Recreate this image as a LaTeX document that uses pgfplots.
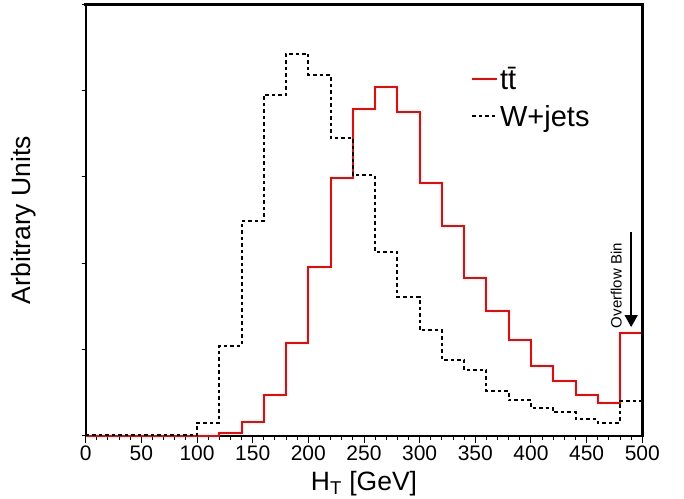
\documentclass[border=0pt]{standalone}
\usepackage{fontspec}
\setmainfont{Liberation Sans}
\usepackage{pgfplots}
\usepackage{pgfplotstable}
\pgfplotsset{compat=1.18}
\usetikzlibrary{arrows.meta}

\pgfplotstableread{
x tt w
0 0 0.005
20 0 0.005
40 0 0.005
60 0 0.005
80 0 0.005
100 0 0.15
120 0.035 1.04
140 0.16 2.49
160 0.47 3.95
180 1.08 4.43
200 1.96 4.18
220 2.99 3.45
240 3.79 3.02
260 4.04 2.13
280 3.75 1.61
300 2.93 1.22
320 2.43 0.88
340 1.83 0.76
360 1.45 0.52
380 1.11 0.41
400 0.81 0.32
420 0.64 0.27
440 0.47 0.19
460 0.38 0.15
480 1.19 0.40
500 1.19 0.40
}\histdata

\begin{document}
\begin{tikzpicture}
\begin{axis}[
  scale only axis, width=556.6pt, height=431.2pt,
  xmin=0, xmax=500, ymin=0, ymax=5,
  xtick={0,50,...,500}, minor x tick num=4,
  ytick={0,1,...,5}, yticklabels={},
  xtick pos=bottom, ytick pos=left,
  tick align=outside,
  major tick length=7pt, minor tick length=4pt,
  y tick style={/pgfplots/major tick length=4pt},
  tick style={black, line width=1pt},
  axis line style={line width=1.8pt},
  clip=false,
  /pgf/number format/assume math mode=true,
  xticklabel style={font=\fontsize{21}{25}\selectfont},
  xlabel={H\textsubscript{T} [GeV]},
  xlabel style={font=\fontsize{26.5}{30}\selectfont, inner sep=0pt, at={(axis description cs:0.5,-0.126)}, anchor=base},
  ylabel={Arbitrary Units},
  ylabel style={font=\fontsize{26.5}{32}\selectfont, inner sep=0pt, at={(axis description cs:-0.1114,0.5)}, anchor=center, rotate=0},
  legend style={draw=none, fill=none, at={(rel axis cs:0.692,0.785)}, anchor=west,
    font=\fontsize{29}{32}\selectfont, row sep=10pt, inner sep=0pt, nodes={inner sep=2pt}},
  legend cell align=left,
  legend image code/.code={\draw[#1] (0pt,0pt) -- (25pt,0pt);},
]
\addplot[const plot, red, line width=2pt] table[x=x, y=tt] {\histdata};
\addlegendentry{t\=t}
\addplot[const plot, black, line width=2pt, dash pattern=on 3.5pt off 3pt] table[x=x, y=w] {\histdata};
\addlegendentry{W+jets}
\draw[line width=3.5pt, line cap=rect] (rel axis cs:0,1) -- (rel axis cs:1,1) -- (rel axis cs:1,0);
\node[rotate=90, font=\fontsize{15}{18}\selectfont] at (axis cs:476.5,1.74) {Overflow Bin};
\draw[line width=1.5pt, -{Triangle[width=13pt,length=12pt]}] (axis cs:490,2.36) -- (axis cs:490,1.26);
\coordinate (bl) at (rel axis cs:0,0);
\coordinate (tr) at (rel axis cs:1,1);
\end{axis}
\path ([shift={(-85.7pt,-63.3pt)}]bl) rectangle ([shift={(41.7pt,4.5pt)}]tr);
\end{tikzpicture}
\end{document}
